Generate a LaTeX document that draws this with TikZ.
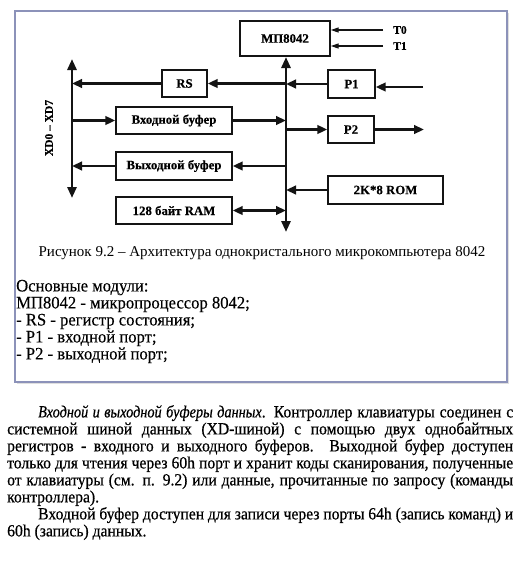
\documentclass[tikz,border=0pt]{standalone}
\usepackage{fontspec}
\setmainfont{Liberation Serif}
\newfontfamily\blockfont{Liberation Serif Bold}[FakeBold=0.4]
\newfontfamily\listfont{Liberation Serif}[FakeStretch=0.95, FakeBold=0.3]
\newfontfamily\parafont{Liberation Serif}[FakeStretch=0.92, FakeBold=0.6]
\newfontfamily\paraitfont{Liberation Serif Italic}[FakeStretch=0.84, FakeBold=0.6]
\usepackage{tikz}
\usetikzlibrary{arrows.meta, positioning, shadows, calc}
\definecolor{ink}{RGB}{20,20,20}
\definecolor{frameLine}{RGB}{140,146,185}
\definecolor{frameFill}{RGB}{255,255,255}
\tikzset{
  blockbox/.style={
    draw=ink,
    line width=1.4pt,
    align=center,
    inner sep=0pt,
    font=\blockfont\fontsize{12.8}{14}\selectfont
  },
  busline/.style={{Triangle[length=11pt,width=9pt]}-{Triangle[length=11pt,width=9pt]}, line width=2.8pt, draw=ink},
  bigarrow/.style={-{Triangle[length=10pt,width=8.5pt]}, line width=2.6pt, draw=ink},
  bothways/.style={{Triangle[length=10pt,width=8.5pt]}-{Triangle[length=10pt,width=8.5pt]}, line width=2.6pt, draw=ink},
  thinarrow/.style={-{Triangle[length=8pt,width=5pt]}, line width=1.2pt, draw=ink},
  pinlabel/.style={font=\blockfont\fontsize{11.5}{13}\selectfont, inner sep=1pt}
}
\begin{document}
\begin{tikzpicture}[x=1pt, y=-1pt]
  \useasboundingbox[fill=white] (0,0) rectangle (522,573);

  % frame round the figure
  \draw[draw=frameLine, line width=2.5pt, fill=frameFill,
    drop shadow={shadow xshift=1.5pt, shadow yshift=-1.5pt, opacity=.25}] (15,11) rectangle (507,382);

  % blocks
  \node[blockbox, minimum width=90pt, minimum height=35pt] (mp) at (285,38.5) {МП8042};
  \node[blockbox, minimum width=45pt, minimum height=27pt] (rs) at (184.5,83.5) {RS};
  \node[blockbox, minimum width=47pt, minimum height=28pt] (p1) at (351.5,84) {P1};
  \node[blockbox, minimum width=116pt, minimum height=27pt] (inbuf) at (174,120.5) {Входной буфер};
  \node[blockbox, minimum width=46pt, minimum height=27pt] (p2) at (351,129.5) {P2};
  \node[blockbox, minimum width=116pt, minimum height=28pt] (outbuf) at (174,166) {Выходной буфер};
  \node[blockbox, minimum width=115pt, minimum height=28pt] (rom) at (385.5,190) {2K*8 ROM};
  \node[blockbox, minimum width=116pt, minimum height=27pt] (ram) at (174,210.5) {128 байт RAM};

  % pins and buses
  \node[pinlabel] (t0) at (400,30) {T0};
  \node[pinlabel] (t1) at (400,46) {T1};
  \node[pinlabel, rotate=90] (xd) at (49,128) {XD0 – XD7};
  \coordinate (busT) at (286,57);
  \coordinate (busB) at (286,232);
  \coordinate (xdT) at (72,59);
  \coordinate (xdB) at (72,198);
  \coordinate (p1in) at (423,87);
  \coordinate (p2out) at (424,131);

  \draw[thinarrow] ($(t0.west)+(-9,0)$) -- (t0 -| mp.east);
  \draw[thinarrow] ($(t1.west)+(-9,0)$) -- (t1 -| mp.east);
  \draw[busline] (busB) -- (busT);
  \draw[busline] (xdB) -- (xdT);

  \draw[bigarrow] (rs.east -| busT) -- (rs.east);
  \draw[bigarrow] (rs.west) -- (rs.west -| xdT);
  \draw[bigarrow] (p1in) -- (p1in -| p1.east);
  \draw[bigarrow] (p1.west) -- (p1.west -| busT);
  \draw[bigarrow] (inbuf.west -| xdT) -- (inbuf.west);
  \draw[bigarrow] (inbuf.east) -- (inbuf.east -| busT);
  \draw[bigarrow] (p2.west -| busT) -- (p2.west);
  \draw[bigarrow] (p2.east) -- (p2.east -| p2out);
  \draw[bigarrow] (outbuf.east -| busT) -- (outbuf.east);
  \draw[bigarrow] (outbuf.west) -- (outbuf.west -| xdT);
  \draw[bigarrow] (rom.west) -- (rom.west -| busT);
  \draw[bothways] (ram.east) -- (ram.east -| busT);

  % caption and list
  \node[font=\fontsize{15}{16}\selectfont, inner sep=0pt] (caption) at (262,253)
    {Рисунок 9.2 – Архитектура однокристального микрокомпьютера 8042};
  \node[anchor=west, align=left, inner sep=0pt, font=\listfont\fontsize{17.5}{17}\selectfont] (modules) at (16,321.5)
    {Основные модули:\\МП8042 - микропроцессор 8042;\\- RS - регистр состояния;\\- P1 - входной порт;\\- P2 - выходной порт;};

  % text below the frame
  \node[anchor=north west, inner sep=0pt, text width=506pt, align=justify,
    font=\parafont\fontsize{17}{17}\selectfont] (para) at (7,405)
    {\hspace*{31pt}{\paraitfont Входной и выходной буферы данных}. Контроллер клавиатуры соединен с\linebreak
    системной шиной данных (XD-шиной) с помощью двух однобайтных\linebreak
    регистров - входного и выходного буферов. Выходной буфер доступен\linebreak
    только для чтения через 60h порт и хранит коды сканирования, полученные\linebreak
    от клавиатуры (см. п. 9.2) или данные, прочитанные по запросу (команды\linebreak
    контроллера).\par
    \hspace*{31pt}Входной буфер доступен для записи через порты 64h (запись команд) и\linebreak
    60h (запись) данных.};
\end{tikzpicture}
\end{document}
